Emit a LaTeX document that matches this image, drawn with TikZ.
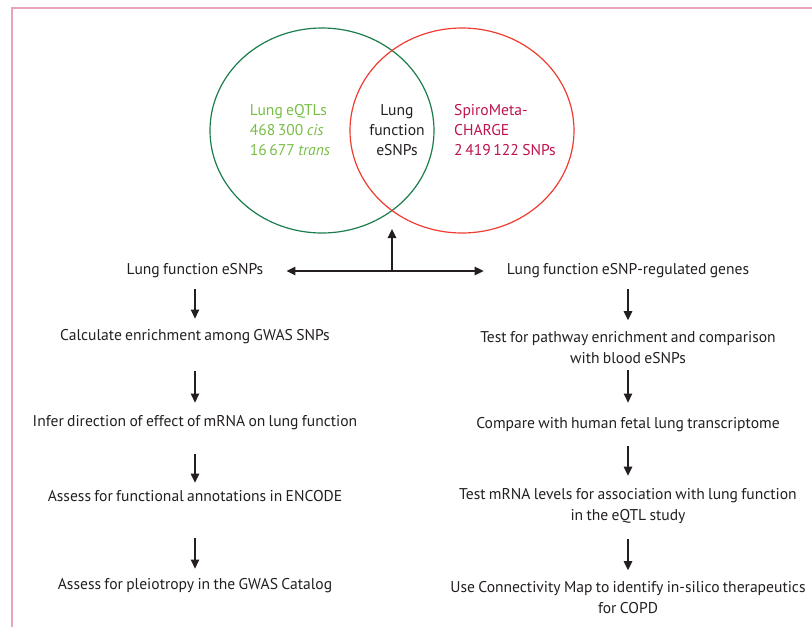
\documentclass[tikz,border=0pt]{standalone}
\usepackage{fontspec}
\setmainfont[WordSpace=0.8]{PT Sans}
\usepackage{xcolor}
\usetikzlibrary{arrows.meta, shapes.geometric}

\definecolor{framepink}{RGB}{232,164,188}
\definecolor{eqtlline}{RGB}{27,125,75}
\definecolor{eqtltext}{RGB}{120,190,70}
\definecolor{spiroline}{RGB}{238,60,50}
\definecolor{spirotext}{RGB}{190,20,75}
\definecolor{ink}{RGB}{35,31,32}

\begin{document}
\begin{tikzpicture}[x=1pt, y=-1pt, >={Triangle[length=9pt, width=8.5pt]},
  txt/.style={inner sep=0pt, text=ink, align=center, font=\fontsize{15.6}{21}\selectfont},
  venn/.style={draw, ellipse, line width=1.2pt, minimum width=224pt, minimum height=205pt, inner sep=0pt},
  flow/.style={->, draw=ink, line width=1.2pt}]
  \useasboundingbox (0,0) rectangle (812,627);
  % frame (left and top only)
  \draw[framepink, line width=1.2pt] (12,627) -- (12,8) -- (812,8);
  % Venn diagram
  \node[venn, draw=eqtlline] (eqtl) at (322,130.5) {};
  \node[venn, draw=spiroline] (spiro) at (462,130.5) {};
  \node[txt, text=eqtltext, align=left, font=\fontsize{15.6}{20}\selectfont] (eqtltxt) at (290,130)
    {Lung eQTLs\\468\,300 \textit{cis}\\16\,677 \textit{trans}};
  \node[txt, font=\fontsize{15.6}{20}\selectfont] (esnp) at (397,130) {Lung\\function\\eSNPs};
  \node[txt, text=spirotext, align=left, font=\fontsize{15.6}{20}\selectfont] (spirotxt) at (505,130)
    {SpiroMeta-\\CHARGE\\2\,419\,122 SNPs};
  % left branch
  \node[txt] (l0) at (195,271) {Lung function eSNPs};
  \node[txt] (l1) at (195,337) {Calculate enrichment among GWAS SNPs};
  \node[txt] (l2) at (195,423) {Infer direction of effect of mRNA on lung function};
  \node[txt] (l3) at (195,496) {Assess for functional annotations in ENCODE};
  \node[txt] (l4) at (195,586) {Assess for pleiotropy in the GWAS Catalog};
  % right branch
  \node[txt] (r0) at (628,271) {Lung function eSNP-regulated genes};
  \node[txt] (r1) at (628,347.5) {Test for pathway enrichment and comparison\\with blood eSNPs};
  \node[txt] (r2) at (628,425) {Compare with human fetal lung transcriptome};
  \node[txt] (r3) at (628,506.5) {Test mRNA levels for association with lung function\\in the eQTL study};
  \node[txt] (r4) at (628,597.5) {Use Connectivity Map to identify in-silico therapeutics\\for COPD};
  % split below the overlap
  \coordinate (hub) at (392,271);
  \coordinate (lens) at (392,229);
  \draw[flow] (hub) -- (lens);
  \draw[flow, <->, shorten <=23pt, shorten >=23pt] (l0) -- (r0);
  % steps
  \draw[flow, shorten <=11pt, shorten >=11pt] (l0) -- (l1);
  \draw[flow, shorten <=27pt, shorten >=13pt] (l1) -- (l2);
  \draw[flow, shorten <=24pt, shorten >=7.5pt] (l2) -- (l3);
  \draw[flow, shorten <=36pt, shorten >=10pt] (l3) -- (l4);
  \draw[flow, shorten <=11pt, shorten >=11pt] (r0) -- (r1);
  \draw[flow, shorten <=6pt, shorten >=15pt] (r1) -- (r2);
  \draw[flow, shorten <=14pt, shorten >=13pt] (r2) -- (r3);
  \draw[flow, shorten <=15pt, shorten >=11pt] (r3) -- (r4);
\end{tikzpicture}
\end{document}
